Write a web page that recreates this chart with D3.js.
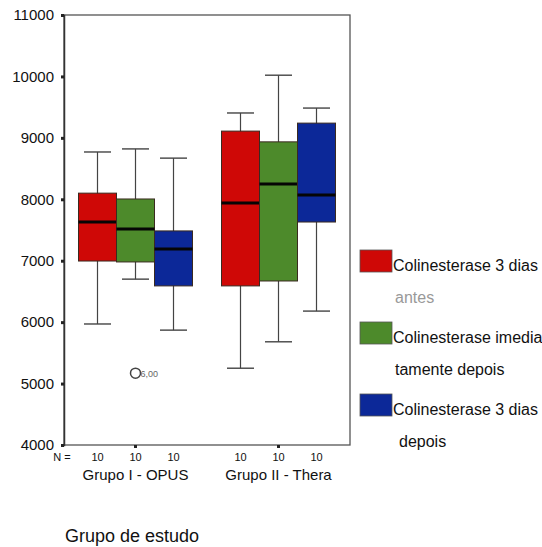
<!DOCTYPE html>
<html>
<head>
<meta charset="utf-8">
<script src="https://cdn.jsdelivr.net/npm/d3@7"></script>
<style>
  body { margin: 0; background: #fff; }
  text { font-family: "Liberation Sans", Arial, sans-serif; fill: #111; }
</style>
</head>
<body>
<svg width="542" height="547"></svg>
<script>
// data
var groups = ["Grupo I - OPUS", "Grupo II - Thera"];
var series = ["Colinesterase 3 dias antes", "Colinesterase imediatamente depois", "Colinesterase 3 dias depois"];
var legendLines = [["Colinesterase 3 dias", "antes"], ["Colinesterase imedia", "tamente depois"], ["Colinesterase 3 dias", "depois"]];
var colors = ["#cf0806", "#4d8a2b", "#0c2898"];
// [group][series]
var whiskerLow = [[5970, 6700, 5870], [5250, 5680, 6180]];
var q1         = [[6995, 6980, 6590], [6590, 6670, 7630]];
var median     = [[7630, 7515, 7190], [7940, 8250, 8070]];
var q3         = [[8100, 8005, 7485], [9110, 8935, 9240]];
var whiskerHigh= [[8770, 8820, 8670], [9405, 10020, 9485]];
var nCounts    = [[10, 10, 10], [10, 10, 10]];
var outliers = [{group: 0, serie: 1, value: 5170, label: "6,00"}];
var yTicks = [4000, 5000, 6000, 7000, 8000, 9000, 10000, 11000];

var svg = d3.select("svg"),
    pLeft = 64, pRight = 350, pTop = 15, pBottom = 445;

var y = d3.scaleLinear().domain([4000, 11000]).range([pBottom, pTop]);
var x = d3.scaleBand().domain(groups).range([pLeft, pRight]);
var xs = d3.scaleBand().domain(series).range([-57, 57]);

// frame
svg.append("rect")
    .attr("x", pLeft).attr("y", pTop)
    .attr("width", pRight - pLeft).attr("height", pBottom - pTop)
    .attr("fill", "none").attr("stroke", "#555").attr("stroke-width", 1.3);

var yAxis = svg.append("g")
    .attr("transform", "translate(" + pLeft + ",0)")
    .call(d3.axisLeft(y).tickValues(yTicks).tickSize(3).tickPadding(7).tickFormat(d3.format("d")));
yAxis.select(".domain").attr("stroke", "#333").attr("stroke-width", 1.5);
yAxis.selectAll(".tick line").attr("stroke", "#222").attr("stroke-width", 3);
yAxis.selectAll("text").style("font-size", "15px").style("fill", "#111");

var xAxis = svg.append("g")
    .attr("transform", "translate(0," + pBottom + ")")
    .call(d3.axisBottom(x).tickSize(3).tickFormat(""));
xAxis.select(".domain").remove();
xAxis.selectAll(".tick line").attr("stroke", "#222").attr("stroke-width", 3);

// boxes
groups.forEach(function(g, gi) {
  var cx0 = x(g) + x.bandwidth() / 2;
  series.forEach(function(s, si) {
    var bx = cx0 + xs(s), bw = xs.bandwidth(), cx = bx + bw / 2;
    var box = svg.append("g");
    box.append("line")
        .attr("x1", cx).attr("x2", cx)
        .attr("y1", y(whiskerLow[gi][si])).attr("y2", y(whiskerHigh[gi][si]))
        .attr("stroke", "#444").attr("stroke-width", 1.2);
    [whiskerLow[gi][si], whiskerHigh[gi][si]].forEach(function(v) {
      box.append("line")
          .attr("x1", cx - 13.5).attr("x2", cx + 13.5)
          .attr("y1", y(v)).attr("y2", y(v))
          .attr("stroke", "#444").attr("stroke-width", 1.4);
    });
    box.append("rect")
        .attr("x", bx).attr("width", bw)
        .attr("y", y(q3[gi][si])).attr("height", y(q1[gi][si]) - y(q3[gi][si]))
        .attr("fill", colors[si]).attr("stroke", "#3a2a20").attr("stroke-width", 1);
    box.append("line")
        .attr("x1", bx).attr("x2", bx + bw)
        .attr("y1", y(median[gi][si])).attr("y2", y(median[gi][si]))
        .attr("stroke", "#050505").attr("stroke-width", 3);
    svg.append("text")
        .attr("x", cx).attr("y", 461)
        .attr("text-anchor", "middle")
        .style("font-size", "11px")
        .text(nCounts[gi][si]);
  });
  svg.append("text")
      .attr("x", cx0).attr("y", 480)
      .attr("text-anchor", "middle")
      .style("font-size", "15px")
      .text(g);
});

svg.append("text").attr("x", 62).attr("y", 461)
    .attr("text-anchor", "middle").style("font-size", "11px").text("N =");

outliers.forEach(function(o) {
  var cx = x(groups[o.group]) + x.bandwidth() / 2 + xs(series[o.serie]) + xs.bandwidth() / 2;
  svg.append("circle")
      .attr("cx", cx).attr("cy", y(o.value)).attr("r", 5)
      .attr("fill", "#fff").attr("stroke", "#444").attr("stroke-width", 1.5);
  svg.append("text")
      .attr("x", cx + 5).attr("y", y(o.value) + 3.5)
      .style("font-size", "9px").style("fill", "#666")
      .text(o.label);
});

// legend
var legend = svg.append("g").attr("transform", "translate(360,250)");
series.forEach(function(s, i) {
  var gy = i * 72;
  legend.append("rect")
      .attr("x", 0).attr("y", gy).attr("width", 32).attr("height", 22)
      .attr("fill", colors[i]).attr("stroke", "#555").attr("stroke-width", 0.8);
  legend.append("text")
      .attr("x", 33).attr("y", gy + 21)
      .style("font-size", "16px")
      .text(legendLines[i][0]);
  legend.append("text")
      .attr("x", i === 2 ? 39 : 35).attr("y", gy + 53)
      .style("font-size", "16px")
      .style("fill", i === 0 ? "#999" : "#111")
      .text(legendLines[i][1]);
});

svg.append("text")
    .attr("x", 65).attr("y", 542)
    .style("font-size", "18px")
    .text("Grupo de estudo");
</script>
</body>
</html>
